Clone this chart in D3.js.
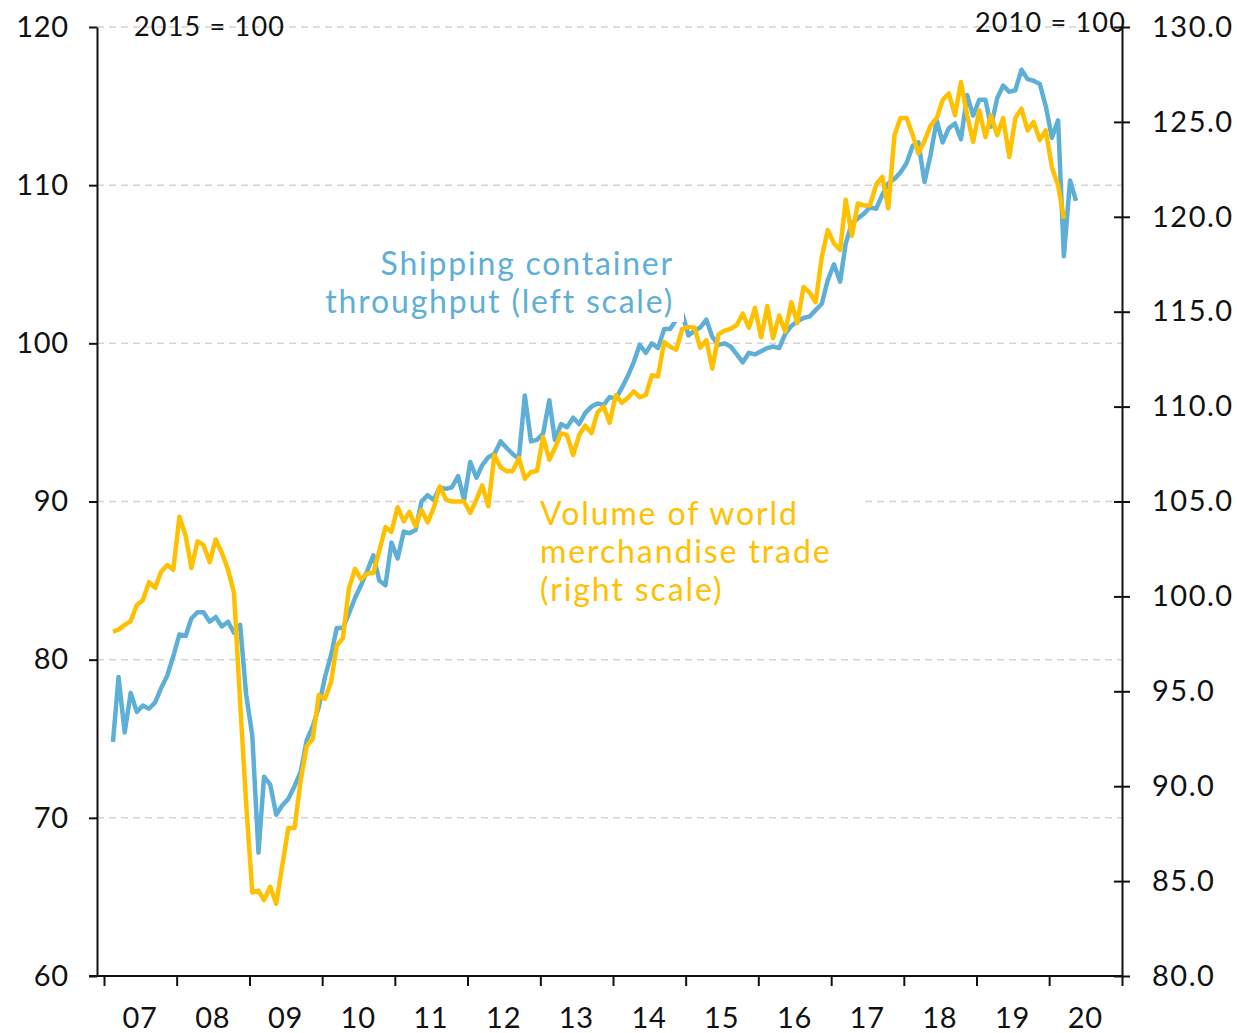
<!DOCTYPE html>
<html>
<head>
<meta charset="utf-8">
<script src="https://cdn.jsdelivr.net/npm/d3@7"></script>
<style>
  body { margin: 0; background: #fff; }
  text { font-family: Lato, "Open Sans", sans-serif; }
</style>
</head>
<body>
<div id="chart"></div>
<script>

const width = 1237
const height = 1033

// monthly data, first point = Feb 2007
const startYear = 2007
const startMonth = 1

// shipping container throughput, 2015 = 100 (left scale)
const containerValues = [
  74.8, 78.9, 75.4, 77.9, 76.7, 77.1, 76.9, 77.3, 78.2, 79.0, 80.2,
  81.6, 81.5, 82.6, 83.0, 83.0, 82.4, 82.7, 82.1, 82.4, 81.7, 82.2, 77.8,
  75.2, 67.8, 72.6, 72.1, 70.2, 70.8, 71.2, 72.0, 72.9, 74.9, 75.8, 77.0,
  78.9, 80.3, 82.0, 82.0, 82.9, 83.9, 84.7, 85.6, 86.6, 85.0, 84.7, 87.4,
  86.4, 88.1, 88.0, 88.2, 90.0, 90.4, 90.1, 90.9, 90.8, 90.9, 91.6, 90.1,
  92.5, 91.5, 92.3, 92.8, 93.0, 93.8, 93.4, 93.0, 92.7, 96.7, 93.8, 93.9,
  94.3, 96.4, 93.9, 94.9, 94.7, 95.3, 94.9, 95.6, 96.0, 96.2, 96.1, 96.6,
  96.5, 97.2, 97.9, 98.8, 99.9, 99.4, 100.0, 99.7, 100.9, 100.9, 101.5, 101.9,
  100.5, 100.8, 101.0, 101.5, 100.4, 99.9, 100.0, 99.8, 99.3, 98.8, 99.4, 99.3,
  99.5, 99.7, 99.8, 99.7, 100.6, 101.1, 101.4, 101.6, 101.7, 102.1, 102.5, 104.0,
  105.0, 103.9, 106.3, 107.6, 107.9, 108.2, 108.6, 108.5, 109.4, 110.1, 110.4, 110.8,
  111.4, 112.5, 112.7, 110.2, 111.9, 114.1, 112.7, 113.6, 113.9, 112.9, 115.7, 114.4,
  115.4, 115.4, 113.7, 115.5, 116.3, 115.9, 116.0, 117.3, 116.7, 116.6, 116.4, 115.0,
  113.0, 114.1, 105.5, 110.3, 109.0
]

// volume of world merchandise trade, 2010 = 100 (right scale)
const tradeValues = [
  98.15, 98.25, 98.5, 98.7, 99.55, 99.8, 100.75, 100.45, 101.3, 101.65, 101.4,
  104.2, 103.2, 101.5, 102.9, 102.7, 101.8, 103.0, 102.3, 101.4, 100.2, 94.4, 89.1,
  84.4, 84.5, 84.0, 84.7, 83.8, 85.85, 87.8, 87.8, 90.3, 92.1, 92.5, 94.8,
  94.6, 95.5, 97.4, 97.8, 100.4, 101.45, 100.9, 101.2, 101.25, 102.4, 103.65, 103.4,
  104.7, 103.95, 104.45, 103.7, 104.55, 103.9, 104.65, 105.8, 105.1, 105.0, 105.0, 105.0,
  104.4, 105.1, 105.85, 104.75, 107.45, 106.8, 106.6, 106.6, 107.3, 106.2, 106.55, 106.6,
  108.4, 107.2, 107.8, 108.6, 108.5, 107.45, 108.5, 109.0, 108.6, 109.7, 110.0, 109.15,
  110.6, 110.2, 110.45, 110.8, 110.5, 110.6, 111.65, 111.6, 113.4, 113.15, 113.0, 114.1,
  114.2, 114.15, 113.1, 113.5, 112.0, 113.8, 114.0, 114.1, 114.3, 114.9, 114.15, 115.2,
  113.65, 115.3, 113.6, 114.8, 113.95, 115.5, 114.4, 116.3, 116.0, 115.5, 117.9, 119.3,
  118.6, 118.25, 120.9, 119.0, 120.7, 120.6, 120.6, 121.7, 122.1, 120.45, 124.3, 125.2,
  125.2, 124.3, 123.35, 124.0, 124.8, 125.2, 126.15, 126.5, 125.35, 127.1, 125.35, 123.95,
  125.6, 124.2, 125.35, 124.3, 125.2, 123.15, 125.2, 125.7, 124.55, 125.0, 124.05, 124.55,
  122.6, 121.65, 119.9
]

const leftTicks = [60, 70, 80, 90, 100, 110, 120]
const rightTicks = [80, 85, 90, 95, 100, 105, 110, 115, 120, 125, 130]
const yearLabels = ["07", "08", "09", "10", "11", "12", "13", "14", "15", "16", "17", "18", "19", "20"]

const blue = "#5eafd6"
const gold = "#ffc000"

const svg = d3.select("#chart")
  .append("svg")
  .attr("width", width)
  .attr("height", height)

const plotLeft = 97, plotRight = 1122, plotTop = 27, plotBottom = 976

const x = d3.scaleTime()
  .domain([new Date(2007, 0, 1), new Date(2021, 0, 1)])
  .range([104, plotRight])

const yL = d3.scaleLinear().domain([60, 120]).range([plotBottom, plotTop])
const yR = d3.scaleLinear().domain([80, 130]).range([plotBottom, plotTop])

const dateOf = i => new Date(startYear, startMonth + i, 15)
const container = containerValues.map((v, i) => ({ date: dateOf(i), v }))
const trade = tradeValues.map((v, i) => ({ date: dateOf(i), v }))

// gridlines (left scale)
svg.append("g")
  .selectAll("line")
  .data(leftTicks.filter(d => d > 60))
  .join("line")
  .attr("x1", plotLeft)
  .attr("x2", plotRight)
  .attr("y1", d => yL(d))
  .attr("y2", d => yL(d))
  .attr("stroke", "#d4d4d4")
  .attr("stroke-width", 1.5)
  .attr("stroke-dasharray", "7,5")

// base labels
svg.append("text")
  .attr("x", 134)
  .attr("y", yL(120) + 9)
  .attr("font-size", 27)
  .attr("letter-spacing", 1.2)
  .attr("fill", "#111")
  .text("2015 = 100")

svg.append("text")
  .attr("x", 1126)
  .attr("y", yR(130) + 5)
  .attr("text-anchor", "end")
  .attr("font-size", 27)
  .attr("letter-spacing", 1.2)
  .attr("fill", "#111")
  .text("2010 = 100")

// series
const lineL = d3.line().x(d => x(d.date)).y(d => yL(d.v))
const lineR = d3.line().x(d => x(d.date)).y(d => yR(d.v))

svg.append("path")
  .datum(container)
  .attr("d", lineL)
  .attr("fill", "none")
  .attr("stroke", blue)
  .attr("stroke-width", 4.5)
  .attr("stroke-linejoin", "round")

svg.append("path")
  .datum(trade)
  .attr("d", lineR)
  .attr("fill", "none")
  .attr("stroke", gold)
  .attr("stroke-width", 4.5)
  .attr("stroke-linejoin", "round")

// series labels with white backing
const blueLabel = svg.append("g")
blueLabel.append("rect")
  .attr("x", 320).attr("y", 246).attr("width", 364).attr("height", 76)
  .attr("fill", "#fff")
blueLabel.append("text")
  .attr("x", 674).attr("y", 275)
  .attr("text-anchor", "end")
  .attr("font-size", 32)
  .attr("letter-spacing", 1.8)
  .attr("fill", blue)
  .text("Shipping container")
blueLabel.append("text")
  .attr("x", 674).attr("y", 313)
  .attr("text-anchor", "end")
  .attr("font-size", 32)
  .attr("letter-spacing", 1.8)
  .attr("fill", blue)
  .text("throughput (left scale)")

const goldLabel = svg.append("g")
goldLabel.append("rect")
  .attr("x", 530).attr("y", 493).attr("width", 332).attr("height", 120)
  .attr("fill", "#fff")
;["Volume of world", "merchandise trade", "(right scale)"].forEach((t, i) => {
  goldLabel.append("text")
    .attr("x", 540)
    .attr("y", 525 + i * 38)
    .attr("font-size", 32)
    .attr("letter-spacing", 1.9)
    .attr("fill", gold)
    .text(t)
})

// left axis
const axL = svg.append("g")
  .attr("transform", `translate(${plotLeft},0)`)
  .call(d3.axisLeft(yL).tickValues(leftTicks).tickSize(8).tickSizeOuter(0).tickPadding(20))
axL.select(".domain").attr("stroke", "#111").attr("stroke-width", 2)
axL.selectAll(".tick line").attr("stroke", "#111").attr("stroke-width", 2)
axL.selectAll(".tick text")
  .attr("font-size", 29)
  .attr("letter-spacing", 0.8)
  .attr("fill", "#111")
  .attr("font-family", "Lato, sans-serif")

// right axis
const axR = svg.append("g")
  .attr("transform", `translate(${plotRight},0)`)
  .call(d3.axisRight(yR).tickValues(rightTicks).tickFormat(d3.format(".1f")).tickSize(8).tickSizeOuter(0).tickPadding(22))
axR.select(".domain").attr("stroke", "#111").attr("stroke-width", 2)
axR.selectAll(".tick line").attr("x1", -8).attr("stroke", "#111").attr("stroke-width", 2)
axR.selectAll(".tick text")
  .attr("font-size", 29)
  .attr("letter-spacing", 1.5)
  .attr("fill", "#111")
  .attr("font-family", "Lato, sans-serif")

// bottom axis
const yearStarts = d3.range(2007, 2022).map(y => new Date(y, 0, 1))
const axB = svg.append("g")
  .attr("transform", `translate(0,${plotBottom})`)
  .call(d3.axisBottom(x).tickValues(yearStarts).tickSize(10).tickFormat(""))
axB.select(".domain").remove()
axB.selectAll(".tick line").attr("stroke", "#111").attr("stroke-width", 2)
axB.append("line")
  .attr("x1", plotLeft - 8).attr("x2", plotRight)
  .attr("stroke", "#111").attr("stroke-width", 2)

svg.append("g")
  .selectAll("text")
  .data(yearLabels)
  .join("text")
  .attr("x", (d, i) => x(new Date(2007 + i, 6, 1)))
  .attr("y", 1028)
  .attr("text-anchor", "middle")
  .attr("font-size", 29)
  .attr("letter-spacing", 0.8)
  .attr("fill", "#111")
  .text(d => d)

</script>
</body>
</html>
